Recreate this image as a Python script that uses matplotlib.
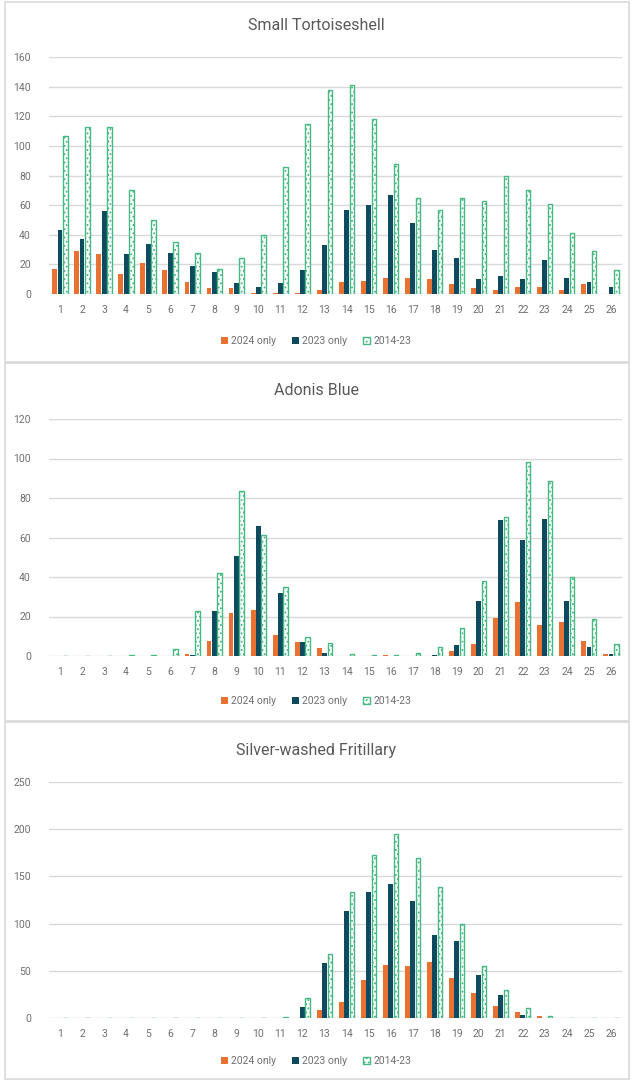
import matplotlib
matplotlib.use("Agg")
import matplotlib.pyplot as plt
from matplotlib.patches import Rectangle
import numpy as np

plt.rcParams['font.family'] = ['Roboto', 'DejaVu Sans']
plt.rcParams['hatch.linewidth'] = 0.8

weeks = list(range(1, 27))
series_names = ["2024 only", "2023 only", "2014-23"]

# Small Tortoiseshell
tortoiseshell_2024 = [17, 29, 27, 13.5, 21, 16, 8, 4, 4, 1, 0.5, 1, 3, 8, 9, 11, 11, 10, 7, 4, 3, 5, 4.5, 3, 6.5, 0]
tortoiseshell_2023 = [43, 37, 56, 27, 34, 28, 19, 15, 7.5, 5, 7.5, 16, 33, 57, 60, 67, 48, 30, 24, 10, 12, 10, 23, 11, 8, 5]
tortoiseshell_hist = [107, 113, 113, 70, 50, 35, 28, 17, 24, 40, 86, 115, 138, 141, 118, 88, 65, 57, 65, 63, 80, 70, 61, 41.5, 29, 16]

# Adonis Blue
adonis_2024 = [0, 0, 0, 0, 0, 0, 1, 7.5, 22, 23.5, 10.5, 7, 4, 0, 0, 0.3, 0, 0, 2.5, 6, 19, 27.5, 15.5, 17, 7.8, 1]
adonis_2023 = [0, 0, 0, 0, 0, 0, 0.5, 23, 50.5, 66, 32, 7, 1.4, 0, 0, 0, 0, 0.5, 5.4, 28, 69, 58.5, 69.5, 28, 4.4, 1]
adonis_hist = [0, 0, 0, 0.5, 0.5, 3.4, 23, 42, 83.5, 61.3, 34.8, 9.5, 6.8, 1, 0.3, 0.5, 1.4, 4.7, 14, 37.8, 70.5, 98, 88.8, 39.8, 18.6, 6]

# Silver-washed Fritillary
fritillary_2024 = [0, 0, 0, 0, 0, 0, 0, 0, 0, 0, 0, 0, 8.8, 16.6, 40.6, 55.8, 54.7, 59.7, 42.7, 26.5, 12.7, 6.4, 1.8, 0, 0, 0]
fritillary_2023 = [0, 0, 0, 0, 0, 0, 0, 0, 0, 0, 0, 11.6, 58, 113, 134, 142, 123.6, 87.6, 81.6, 45.2, 24.7, 3.5, 0.5, 0, 0, 0]
fritillary_hist = [0, 0, 0, 0, 0, 0.5, 0, 0, 0.5, 0.5, 1, 21.5, 67.5, 133, 173, 195, 170, 138.4, 100, 55.4, 30, 10.2, 2.5, 0.5, 0.5, 0.5]

panels = [
    ("Small Tortoiseshell", tortoiseshell_2024, tortoiseshell_2023, tortoiseshell_hist, 160, 20),
    ("Adonis Blue", adonis_2024, adonis_2023, adonis_hist, 120, 20),
    ("Silver-washed Fritillary", fritillary_2024, fritillary_2023, fritillary_hist, 250, 50),
]

ORANGE = "#E97132"
NAVY = "#0E4A60"
GREEN = "#45B883"
TEXT = "#595959"
TICK = "#6F6F6F"
GRID = "#D9D9D9"

W, H = 632, 1081
fig = plt.figure(figsize=(W / 100, H / 100), dpi=100)
fig.patch.set_facecolor("white")

# panel frames (pixel rows: top, bottom)
frames = [(2, 362), (363, 721), (722, 1079)]
for top, bot in frames:
    fig.patches.append(Rectangle((5 / W, 1 - bot / H), (W - 8) / W, (bot - top) / H,
                                 transform=fig.transFigure, facecolor="none",
                                 edgecolor=GRID, linewidth=1.2, zorder=-1))

# plot areas: (top px, bottom px), title y px, legend y px
layout = [((57, 294), 25, 341), ((419, 656), 390, 701), ((782, 1018), 750, 1061)]
left_px, right_px = 49, 622

x = np.arange(len(weeks))
bw = 0.24
for (title, s24, s23, shist, ymax, step), ((top, bot), ty, ly) in zip(panels, layout):
    ax = fig.add_axes([left_px / W, 1 - bot / H, (right_px - left_px) / W, (bot - top) / H])
    ax.bar(x - bw, s24, width=bw * 0.92, color=ORANGE, zorder=3, label=series_names[0])
    ax.bar(x, s23, width=bw * 0.92, color=NAVY, zorder=3, label=series_names[1])
    ax.bar(x + bw, shist, width=bw * 0.85, facecolor="white", edgecolor=GREEN,
           hatch="....", linewidth=1.0, zorder=3, label=series_names[2])
    ax.set_xlim(-0.5, len(weeks) - 0.5)
    ax.set_ylim(0, ymax)
    ax.set_yticks(np.arange(0, ymax + 1, step))
    ax.set_xticks(x)
    ax.set_xticklabels([str(w) for w in weeks])
    ax.grid(axis="y", color=GRID, linewidth=1.0, zorder=0)
    for s in ax.spines.values():
        s.set_visible(False)
    ax.tick_params(length=0, labelsize=7.5, colors=TICK, pad=8)
    ax.tick_params(axis="y", pad=13)
    ax.set_facecolor("none")
    fig.text(0.5, 1 - ty / H, title, ha="center", va="center", fontsize=11.5, color=TEXT)
    ax.legend(loc="center", bbox_to_anchor=(0.5, 1 - ly / H), bbox_transform=fig.transFigure,
              ncol=3, frameon=False, fontsize=7.5, handlelength=0.7, handleheight=0.7,
              handletextpad=0.3, columnspacing=1.5, labelcolor=TICK)

fig.savefig("out.png", dpi=100, facecolor="white")
